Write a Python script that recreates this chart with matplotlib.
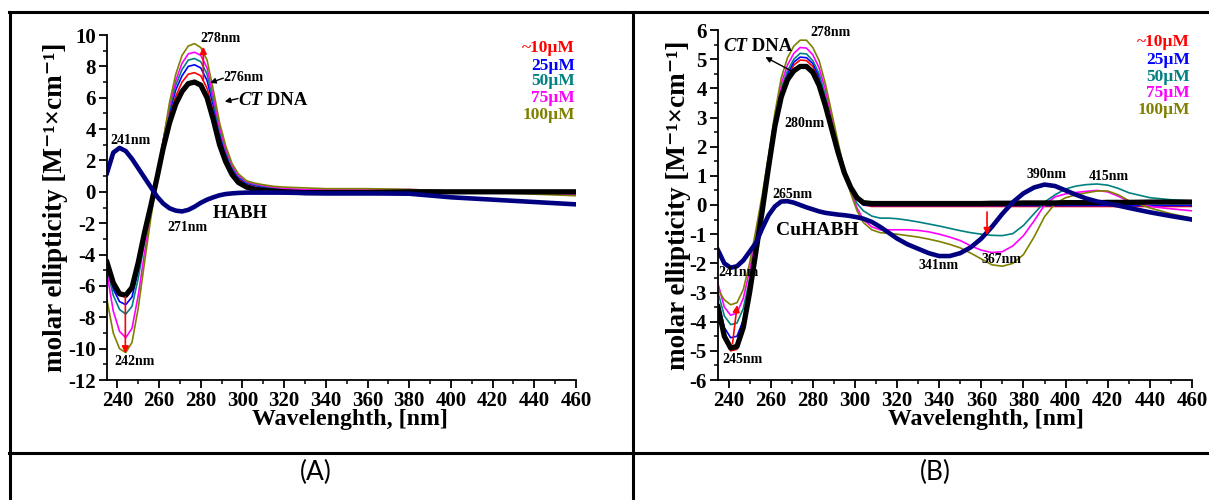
import matplotlib
matplotlib.use('Agg')
import matplotlib.pyplot as plt
from matplotlib.lines import Line2D
from matplotlib.ticker import MultipleLocator
from matplotlib.font_manager import FontProperties, findfont

plt.rcParams['font.family'] = 'Liberation Serif'
plt.rcParams['font.weight'] = 'bold'
plt.rcParams['axes.labelweight'] = 'bold'
plt.rcParams['axes.unicode_minus'] = False

## font files looked up once, used by path for the tick labels
serif_bold_file = findfont(FontProperties(family='Liberation Serif', weight='bold'))
serif_bi_file = findfont(FontProperties(family='Liberation Serif', weight='bold', style='italic'))
sans_file = findfont(FontProperties(family='Lato', weight='normal'))

conc_labels = ['~10µM', '25µM', '50µM', '75µM', '100µM']
conc_colors = ['#FF0000', '#0000FF', '#008080', '#FF00FF', '#808000']
x_ticks = [240, 260, 280, 300, 320, 340, 360, 380, 400, 420, 440, 460]
y_ticks_a = [-12, -10, -8, -6, -4, -2, 0, 2, 4, 6, 8, 10]
y_ticks_b = [-6, -5, -4, -3, -2, -1, 0, 1, 2, 3, 4, 5, 6]

## panel A : CT DNA + HABH
wl_a = [235, 238, 241, 244, 247, 250, 253, 256, 259, 262, 265, 268, 271, 274, 277,
        280, 283, 286, 289, 292, 295, 298, 302, 306, 310, 315, 320, 330, 340, 360,
        380, 400, 420, 440, 460]
dna_a = [-4.5, -5.8, -6.5, -6.6, -6.1, -4.5, -2.6, -0.9, 0.9, 2.8, 4.4, 5.6, 6.4, 6.9, 7.0,
         6.8, 6.0, 4.6, 3.0, 1.9, 1.1, 0.6, 0.3, 0.15, 0.1, 0.05, 0.0, -0.05, -0.05, -0.05,
         0.0, 0.0, 0.0, 0.0, 0.0]
c10_a = [-4.5, -5.9, -6.6, -6.7, -6.2, -4.6, -2.7, -0.9, 1.0, 3.0, 4.8, 6.1, 7.0, 7.5, 7.6,
         7.4, 6.6, 5.1, 3.4, 2.2, 1.3, 0.8, 0.45, 0.3, 0.2, 0.1, 0.05, 0.0, 0.0, 0.0,
         0.0, -0.05, -0.05, -0.05, -0.05]
c25_a = [-4.7, -6.2, -7.0, -7.2, -6.7, -5.0, -2.9, -1.0, 1.0, 3.2, 5.1, 6.5, 7.4, 8.0, 8.1,
         7.9, 7.1, 5.5, 3.7, 2.4, 1.5, 0.9, 0.55, 0.4, 0.3, 0.2, 0.12, 0.05, 0.05, 0.05,
         0.05, 0.0, -0.05, -0.05, -0.1]
c50_a = [-4.9, -6.6, -7.5, -7.8, -7.3, -5.5, -3.2, -1.1, 1.0, 3.3, 5.3, 6.8, 7.8, 8.4, 8.5,
         8.3, 7.5, 5.8, 3.9, 2.6, 1.6, 1.0, 0.6, 0.45, 0.35, 0.25, 0.15, 0.1, 0.1, 0.1,
         0.1, 0.05, 0.0, -0.05, -0.1]
c75_a = [-5.2, -7.6, -8.9, -9.3, -8.7, -6.6, -3.9, -1.4, 0.9, 3.3, 5.5, 7.1, 8.2, 8.8, 8.9,
         8.7, 7.9, 6.1, 4.1, 2.7, 1.7, 1.05, 0.65, 0.5, 0.4, 0.3, 0.2, 0.15, 0.15, 0.15,
         0.15, 0.05, -0.05, -0.1, -0.2]
c100_a = [-6.9, -9.0, -10.0, -10.25, -9.6, -7.4, -4.5, -1.7, 0.8, 3.3, 5.7, 7.5, 8.7, 9.3, 9.45,
          9.2, 8.4, 6.5, 4.4, 2.9, 1.8, 1.15, 0.7, 0.55, 0.45, 0.35, 0.3, 0.25, 0.2, 0.2,
          0.15, 0.05, -0.05, -0.15, -0.25]
habh_a = [1.2, 2.5, 2.8, 2.6, 2.1, 1.5, 0.9, 0.3, -0.3, -0.75, -1.05, -1.2, -1.25, -1.15, -0.95,
          -0.7, -0.5, -0.35, -0.22, -0.14, -0.1, -0.07, -0.05, -0.05, -0.05, -0.05, -0.05, -0.08, -0.1, -0.1,
          -0.12, -0.35, -0.5, -0.65, -0.8]

## panel B : CT DNA + CuHABH
wl_b = [235, 238, 241, 244, 247, 250, 253, 256, 259, 262, 265, 268, 271, 274, 277,
        280, 283, 286, 289, 292, 295, 298, 301, 304, 308, 312, 316, 320, 325, 330,
        335, 340, 345, 350, 355, 360, 365, 370, 375, 380, 385, 390, 395, 400, 405,
        410, 415, 420, 425, 430, 440, 450, 460]
dna_b = [-3.5, -4.5, -4.9, -4.85, -4.2, -3.0, -1.6, -0.2, 1.3, 2.7, 3.7, 4.3, 4.6, 4.75, 4.75,
         4.55, 4.1, 3.4, 2.6, 1.8, 1.1, 0.6, 0.25, 0.08, 0.05, 0.05, 0.05, 0.05, 0.05, 0.05,
         0.05, 0.05, 0.05, 0.05, 0.05, 0.05, 0.06, 0.06, 0.06, 0.07, 0.07, 0.07, 0.07, 0.08, 0.08,
         0.08, 0.08, 0.09, 0.09, 0.09, 0.1, 0.1, 0.1]
c10_b = [-3.5, -4.6, -5.0, -4.95, -4.3, -3.1, -1.6, -0.2, 1.35, 2.8, 3.8, 4.4, 4.8, 4.97, 4.95,
         4.75, 4.3, 3.55, 2.7, 1.85, 1.1, 0.55, 0.2, 0.0, -0.05, -0.05, -0.05, -0.05, -0.05, -0.05,
         -0.05, -0.05, -0.05, -0.05, -0.05, -0.05, -0.05, -0.05, -0.05, -0.05, -0.05, -0.05, -0.05, -0.05, -0.05,
         -0.05, -0.05, -0.05, -0.05, -0.05, -0.05, -0.05, -0.05]
c25_b = [-3.3, -4.2, -4.55, -4.5, -3.95, -2.85, -1.45, -0.1, 1.4, 2.85, 3.9, 4.5, 4.9, 5.07, 5.05,
         4.85, 4.4, 3.65, 2.75, 1.9, 1.1, 0.55, 0.2, 0.0, -0.02, -0.02, -0.02, -0.02, -0.02, -0.02,
         -0.02, -0.02, -0.02, -0.02, -0.02, -0.02, -0.02, -0.02, -0.02, -0.02, -0.02, -0.02, -0.02, -0.02, -0.02,
         -0.02, -0.02, -0.02, -0.02, -0.02, -0.02, -0.02, -0.02]
c50_b = [-3.0, -3.8, -4.1, -4.05, -3.55, -2.55, -1.3, 0.0, 1.45, 2.9, 4.0, 4.6, 5.0, 5.2, 5.18,
         4.95, 4.5, 3.75, 2.8, 1.9, 1.05, 0.45, 0.05, -0.2, -0.38, -0.45, -0.45, -0.47, -0.52, -0.58,
         -0.65, -0.72, -0.8, -0.88, -0.95, -1.0, -1.04, -1.05, -0.98, -0.7, -0.3, 0.1, 0.35, 0.55, 0.65,
         0.7, 0.72, 0.68, 0.57, 0.42, 0.25, 0.18, 0.14]
c75_b = [-2.7, -3.5, -3.78, -3.7, -3.2, -2.25, -1.1, 0.15, 1.55, 3.0, 4.15, 4.8, 5.2, 5.4, 5.38,
         5.15, 4.7, 3.95, 3.0, 2.05, 1.15, 0.45, -0.1, -0.5, -0.75, -0.85, -0.85, -0.85, -0.85, -0.87,
         -0.92, -1.0, -1.1, -1.22, -1.4, -1.55, -1.63, -1.6, -1.4, -1.05, -0.55, 0.0, 0.28, 0.38, 0.43,
         0.47, 0.5, 0.45, 0.3, 0.13, -0.05, -0.13, -0.2]
c100_b = [-2.9, -3.25, -3.42, -3.35, -2.9, -2.0, -0.85, 0.35, 1.7, 3.15, 4.35, 5.05, 5.45, 5.65, 5.65,
          5.4, 4.95, 4.15, 3.15, 2.15, 1.2, 0.4, -0.2, -0.6, -0.85, -0.95, -0.97, -1.0, -1.05, -1.1,
          -1.17, -1.25, -1.35, -1.47, -1.65, -1.85, -2.05, -2.1, -2.0, -1.7, -1.1, -0.4, 0.05, 0.25, 0.35,
          0.42, 0.48, 0.48, 0.35, 0.15, -0.1, -0.3, -0.45]
cuhabh_b = [-1.55, -2.0, -2.15, -2.1, -1.9, -1.6, -1.3, -0.8, -0.35, -0.05, 0.12, 0.13, 0.08, 0.0, -0.08,
            -0.15, -0.22, -0.27, -0.3, -0.33, -0.35, -0.38, -0.42, -0.47, -0.58, -0.75, -0.95, -1.15, -1.35, -1.5,
            -1.65, -1.75, -1.75, -1.65, -1.45, -1.15, -0.75, -0.3, 0.1, 0.4, 0.6, 0.7, 0.65, 0.5, 0.35,
            0.22, 0.12, 0.05, -0.02, -0.1, -0.25, -0.38, -0.5]

W, H = 1209, 500
fig = plt.figure(figsize=(W / 100, H / 100), dpi=100)


def px_axes(x0, y0, x1, y1):
    return fig.add_axes([x0 / W, 1 - y1 / H, (x1 - x0) / W, (y1 - y0) / H])


def style_ax(ax, ylim, yticks, ymin, ylab_x, xlab_x, xlab_y):
    ax.set_xlim(235, 460)
    ax.set_ylim(*ylim)
    ax.spines['top'].set_visible(False)
    ax.spines['right'].set_visible(False)
    ax.spines['left'].set_linewidth(1.3)
    ax.spines['bottom'].set_linewidth(1.3)
    tick_fp = FontProperties(fname=serif_bold_file, size=15)
    ax.set_xticks(x_ticks)
    ax.set_xticklabels([str(t) for t in x_ticks], fontproperties=tick_fp)
    ax.set_yticks(yticks)
    ax.set_yticklabels([str(t) for t in yticks], fontproperties=tick_fp)
    ax.xaxis.set_minor_locator(MultipleLocator(10))
    ax.yaxis.set_minor_locator(MultipleLocator(ymin))
    ax.tick_params(which='major', direction='out', length=6, width=1.3, pad=2)
    ax.tick_params(which='minor', direction='out', length=3, width=1.1)
    ax.set_xlabel('Wavelenghth, [nm]', fontsize=17.2, fontweight='bold')
    ax.set_ylabel('molar ellipticity [M⁻¹×cm⁻¹]', fontsize=19.5, fontweight='bold',
                  family=['Liberation Serif', 'DejaVu Serif'])
    ax.yaxis.set_label_coords(ylab_x, 0.5)
    ax.xaxis.set_label_coords(xlab_x, xlab_y)


def arrow(ax, head, tail, color, lw=1.2, ms=10):
    ax.annotate('', xy=head, xytext=tail,
                arrowprops=dict(arrowstyle='-|>', color=color, lw=lw, mutation_scale=ms,
                                shrinkA=0, shrinkB=0))


def ct_dna(ax, x, y, size):
    ## italic CT followed by upright DNA
    t = ax.text(x, y, 'CT', fontproperties=FontProperties(fname=serif_bi_file, size=size),
                ha='left', va='center')
    ax.annotate(' DNA', xy=(1, 0), xycoords=t, ha='left', va='bottom',
                fontsize=size, fontweight='bold')


## ---- panel A
ax1 = px_axes(107, 35, 576, 380)
for vals, c in zip([c10_a, c25_a, c50_a, c75_a, c100_a], conc_colors):
    ax1.plot(wl_a, vals, color=c, lw=1.2)
ax1.plot(wl_a, dna_a, color='black', lw=3.8)
ax1.plot(wl_a, habh_a, color='#000080', lw=3.3)
style_ax(ax1, (-12, 10), y_ticks_a, 1, -0.083, 0.518, -0.084)

ax1.text(289.4, 9.8, '278nm', fontsize=10, ha='center', va='center')
arrow(ax1, (281.2, 9.25), (281.2, 7.1), 'red')
ax1.text(290.8, 7.3, '276nm', fontsize=10, ha='left', va='center')
arrow(ax1, (284.5, 6.95), (290.8, 7.25), 'black', lw=1.0, ms=8)
ct_dna(ax1, 298, 5.8, 13.5)
arrow(ax1, (291.5, 5.75), (297.8, 5.95), 'black', lw=1.0, ms=8)
ax1.text(246.2, 3.3, '241nm', fontsize=10, ha='center', va='center')
ax1.text(273.6, -2.25, '271nm', fontsize=10, ha='center', va='center')
ax1.text(285.5, -1.4, 'HABH', fontsize=13.5, ha='left', va='center')
ax1.text(248, -10.85, '242nm', fontsize=10, ha='center', va='center')
arrow(ax1, (243.8, -10.3), (243.8, -6.7), 'red')

leg_y_a = [9.17, 8.0, 7.07, 6.0, 4.9]
for lab, c, yy in zip(conc_labels, conc_colors, leg_y_a):
    ax1.text(459.6, yy, lab, color=c, fontsize=12.5, ha='right', va='center')

## ---- panel B
ax2 = px_axes(718, 30, 1192, 380)
for vals, c in zip([c10_b, c25_b, c50_b, c75_b, c100_b], conc_colors):
    ax2.plot(wl_b, vals, color=c, lw=1.2)
ax2.plot(wl_b, dna_b, color='black', lw=3.8)
ax2.plot(wl_b, cuhabh_b, color='#000080', lw=3.3)
style_ax(ax2, (-6, 6), y_ticks_b, 0.5, -0.057, 0.566, -0.083)

ax2.text(288.4, 5.9, '278nm', fontsize=10, ha='center', va='center')
ct_dna(ax2, 237.6, 5.45, 13.5)
arrow(ax2, (257.5, 5.07), (270.8, 4.56), 'black', lw=1.0, ms=8)
ax2.text(276, 2.8, '280nm', fontsize=10, ha='center', va='center')
ax2.text(270.3, 0.35, '265nm', fontsize=10, ha='center', va='center')
ax2.text(282.2, -0.86, 'CuHABH', fontsize=14, ha='center', va='center')
ax2.text(244.7, -2.3, '241nm', fontsize=10, ha='center', va='center')
ax2.text(246.6, -5.31, '245nm', fontsize=10, ha='center', va='center')
arrow(ax2, (244.1, -3.43), (241.9, -4.75), 'red')
ax2.text(339.6, -2.06, '341nm', fontsize=10, ha='center', va='center')
ax2.text(369.4, -1.88, '367nm', fontsize=10, ha='center', va='center')
ax2.text(390.8, 1.03, '390nm', fontsize=10, ha='center', va='center')
ax2.text(420.7, 0.96, '415nm', fontsize=10, ha='center', va='center')
arrow(ax2, (362.7, -1.03), (362.7, -0.24), 'red')

leg_y_b = [5.59, 4.97, 4.39, 3.84, 3.26]
for lab, c, yy in zip(conc_labels, conc_colors, leg_y_b):
    ax2.text(459, yy, lab, color=c, fontsize=12.5, ha='right', va='center')

## table frame round the two panels
def frame_line(x0, y0, x1, y1):
    fig.add_artist(Line2D([x0 / W, x1 / W], [1 - y0 / H, 1 - y1 / H],
                          transform=fig.transFigure, color='black', lw=2.2))

frame_line(9, 12, W, 12)
frame_line(10, 12, 10, H)
frame_line(633, 12, 633, H)
frame_line(9, 453, W, 453)

panel_fp = FontProperties(fname=sans_file, size=19)
fig.text(316 / W, 1 - 472 / H, '(A)', fontproperties=panel_fp, ha='center', va='center')
fig.text(935 / W, 1 - 472 / H, '(B)', fontproperties=panel_fp, ha='center', va='center')

fig.savefig('out.png', dpi=100)
